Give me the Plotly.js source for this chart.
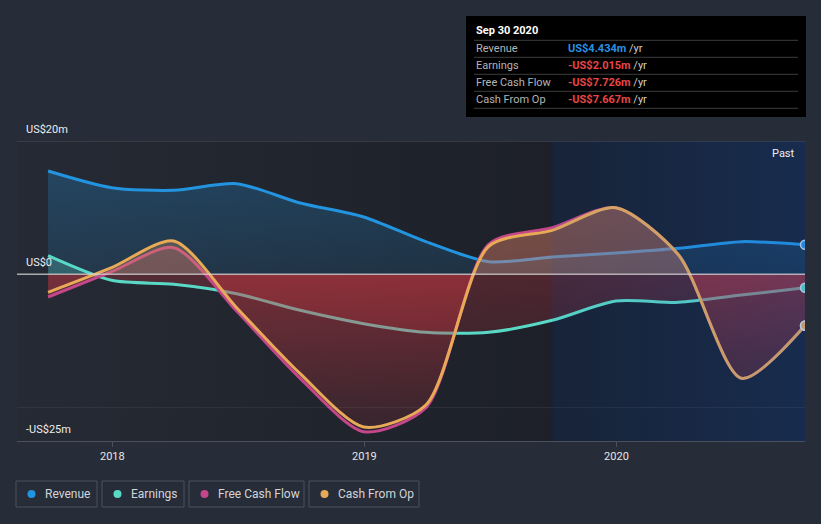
<!DOCTYPE html>
<html>
<head>
<meta charset="utf-8">
<script src="https://cdn.plot.ly/plotly-3.0.1.min.js"></script>
<style>
html,body{margin:0;padding:0;background:#262c38;}
#chart{width:821px;height:524px;}
</style>
</head>
<body>
<div id="chart"></div>
<script>
// ---- data (US$ millions, trailing twelve months) ----
const dates = ['2017-09-30','2017-12-31','2018-03-31','2018-06-30','2018-09-30','2018-12-31','2019-03-31','2019-06-30','2019-09-30','2019-12-31','2020-03-31','2020-06-30','2020-09-30'];
const revenue  = [15.5, 13.0, 12.6, 13.6, 10.7, 8.6, 4.9, 1.9, 2.6, 3.2, 3.9, 4.9, 4.434];
const earnings = [2.8, -0.9, -1.5, -2.9, -5.4, -7.4, -8.7, -8.7, -6.9, -4.0, -4.2, -3.1, -2.015];
const fcf      = [-3.4, 0.4, 4.0, -5.5, -15.6, -23.6, -20.0, 4.5, 7.0, 10.0, 2.9, -15.6, -7.726];
const cfo      = [-2.7, 1.0, 5.0, -5.0, -14.9, -22.9, -19.6, 4.2, 6.6, 10.0, 2.9, -15.6, -7.667];
const seriesNames = ['Revenue','Earnings','Free Cash Flow','Cash From Op'];
const yTickVals = [20, 0, -25];
const yTickText = ['US$20m','US$0','-US$25m'];
const tipTitle = 'Sep 30 2020';
const tipValues = ['US$4.434m','-US$2.015m','-US$7.726m','-US$7.667m'];

// ---- layout constants ----
const W = 821, H = 524, PL = 17, PR = 805, PT = 141, PB = 441;
const xRange = ['2017-08-16', '2020-09-30'];
const pastStart = '2019-09-30';
const yRange = [-25, 20];
const px = p => (p - PL) / (PR - PL);
const py = p => (PB - p) / (PB - PT);
const z0 = (0 - yRange[0]) / (yRange[1] - yRange[0]);

const colors = ['#2394df', '#5ad8c6', '#c4478a', '#e9aa58'];
const posFill = ['rgba(35,148,223,', 'rgba(92,224,208,', 'rgba(200,70,130,', 'rgba(233,170,86,'];

function grad(i) {
  const neg0 = 'rgba(200,50,60,0.05)', negTop = 'rgba(205,55,65,0.28)';
  if (i === 0) {
    return {type: 'vertical', start: yRange[0], stop: yRange[1],
      colorscale: [[0, posFill[0] + '0.1)'], [z0, posFill[0] + '0.14)'], [1, posFill[0] + '0.3)']]};
  }
  return {type: 'vertical', start: yRange[0], stop: yRange[1],
    colorscale: [[0, neg0], [z0 - 0.0005, negTop], [z0, posFill[i] + '0.24)'], [1, posFill[i] + '0.32)']]};
}

const allSeries = [revenue, earnings, fcf, cfo];
const traces = [];
// background panels
traces.push({x: [xRange[0], pastStart, pastStart, xRange[0], xRange[0]], y: [yRange[0], yRange[0], yRange[1], yRange[1], yRange[0]],
  mode: 'lines', line: {width: 0}, fill: 'toself', hoverinfo: 'skip', showlegend: false,
  fillgradient: {type: 'horizontal', colorscale: [[0, '#252a34'], [1, '#1d2028']]}});
traces.push({x: [pastStart, xRange[1], xRange[1], pastStart, pastStart], y: [yRange[0], yRange[0], yRange[1], yRange[1], yRange[0]],
  mode: 'lines', line: {width: 0}, fill: 'toself', fillcolor: '#18202f', hoverinfo: 'skip', showlegend: false});

allSeries.forEach((s, i) => {
  traces.push({x: dates, y: s, name: seriesNames[i], mode: 'lines',
    line: {color: colors[i], width: 3, shape: 'spline', smoothing: 0.75},
    fill: 'tozeroy', fillgradient: grad(i), hoverinfo: 'skip', showlegend: false});
});
[2, 3, 1, 0].forEach(i => {
  const s = allSeries[i];
  traces.push({x: [dates[dates.length - 1]], y: [s[s.length - 1]], mode: 'markers',
    marker: {size: 9, color: colors[i], line: {width: 1.5, color: 'rgba(225,232,240,0.9)'}},
    hoverinfo: 'skip', showlegend: false});
});
// past-year highlight overlay
traces.push({x: [pastStart, xRange[1], xRange[1], pastStart, pastStart], y: [yRange[0], yRange[0], yRange[1], yRange[1], yRange[0]],
  mode: 'lines', line: {width: 0}, fill: 'toself', hoverinfo: 'skip', showlegend: false,
  fillgradient: {type: 'horizontal', colorscale: [[0, 'rgba(20,90,200,0.06)'], [1, 'rgba(20,90,200,0.2)']]}});

const shapes = [
  {type: 'line', xref: 'paper', yref: 'y', x0: 0, x1: 1, y0: 20, y1: 20, line: {color: '#4b515c', width: 1}, layer: 'above'},
  {type: 'line', xref: 'paper', yref: 'y', x0: 0, x1: 1, y0: -20, y1: -20, line: {color: 'rgba(255,255,255,0.07)', width: 1}, layer: 'above'},
  {type: 'line', xref: 'paper', yref: 'y', x0: 0, x1: 1, y0: 0, y1: 0, line: {color: 'rgba(215,215,215,0.75)', width: 1.5}, layer: 'above'},
  // tooltip box
  {type: 'rect', xref: 'paper', yref: 'paper', x0: px(466), x1: px(806), y0: py(117), y1: py(16), fillcolor: '#000000', line: {width: 0}, layer: 'above'}
];
[40.3, 57.3, 74.3, 91.3, 108.3].forEach(yy => {
  shapes.push({type: 'line', xref: 'paper', yref: 'paper', x0: px(474), x1: px(798), y0: py(yy), y1: py(yy), line: {color: '#3c3c3c', width: 1}, layer: 'above'});
});

const annotations = [];
yTickVals.forEach((v, i) => {
  annotations.push({xref: 'paper', yref: 'y', x: px(24), y: v, xanchor: 'left', yanchor: 'bottom', yshift: 3,
    text: yTickText[i], showarrow: false, font: {family: 'Roboto, sans-serif', size: 11, color: '#eeeeee'}});
});
annotations.push({xref: 'paper', yref: 'paper', x: px(797), y: py(153), xanchor: 'right', yanchor: 'middle',
  text: 'Past', showarrow: false, font: {family: 'Roboto, sans-serif', size: 11, color: '#eeeeee'}});
// tooltip text
annotations.push({xref: 'paper', yref: 'paper', x: px(474), y: py(31), xanchor: 'left', yanchor: 'middle',
  text: '<b>' + tipTitle + '</b>', showarrow: false, font: {family: 'Roboto, sans-serif', size: 11, color: '#ffffff'}});
const tipColors = ['#2b8fe0', '#e84545', '#e84545', '#e84545'];
const rowY = [48.7, 65.7, 82.7, 99.7];
seriesNames.forEach((n, i) => {
  annotations.push({xref: 'paper', yref: 'paper', x: px(474), y: py(rowY[i]), xanchor: 'left', yanchor: 'middle',
    text: n, showarrow: false, font: {family: 'Roboto, sans-serif', size: 11, color: '#b4b4b4'}});
  annotations.push({xref: 'paper', yref: 'paper', x: px(566), y: py(rowY[i]), xanchor: 'left', yanchor: 'middle',
    text: '<span style="color:' + tipColors[i] + '"><b>' + tipValues[i] + '</b></span> /yr', showarrow: false,
    font: {family: 'Roboto, sans-serif', size: 11, color: '#cfcfcf'}});
});
// legend boxes
const legBoxes = [[16, 97], [102, 184], [189, 304], [309, 419]];
legBoxes.forEach((b, i) => {
  shapes.push({type: 'rect', xref: 'paper', yref: 'paper', x0: px(b[0]), x1: px(b[1]), y0: py(507), y1: py(481),
    line: {color: '#4b515c', width: 1}, fillcolor: 'rgba(0,0,0,0)'});
  shapes.push({type: 'circle', xref: 'paper', yref: 'paper', x0: px(b[0] + 11.5), x1: px(b[0] + 19.5), y0: py(498), y1: py(490),
    line: {width: 0}, fillcolor: colors[i]});
  annotations.push({xref: 'paper', yref: 'paper', x: px(b[0] + 27), y: py(494), xanchor: 'left', yanchor: 'middle',
    text: seriesNames[i], showarrow: false, font: {family: 'Roboto, sans-serif', size: 12, color: '#d2d4d8'}});
});

const layout = {
  width: W, height: H,
  margin: {l: PL, r: W - PR, t: PT, b: H - PB, pad: 0},
  paper_bgcolor: '#262c38', plot_bgcolor: '#1f232b',
  showlegend: false, hovermode: false,
  xaxis: {type: 'date', range: xRange, showgrid: false, zeroline: false, showline: true, linecolor: '#4b515c', linewidth: 1,
    ticks: 'outside', ticklen: 5, tickcolor: '#4b515c', tick0: '2018-01-01', dtick: 'M12', tickformat: '%Y',
    tickfont: {family: 'Roboto, sans-serif', size: 11, color: '#e6e6e6'}, fixedrange: true},
  yaxis: {range: yRange, showgrid: false, zeroline: false, showline: false, showticklabels: false, ticks: '', fixedrange: true},
  shapes: shapes, annotations: annotations
};
Plotly.newPlot('chart', traces, layout, {staticPlot: true, displayModeBar: false});
</script>
</body>
</html>
